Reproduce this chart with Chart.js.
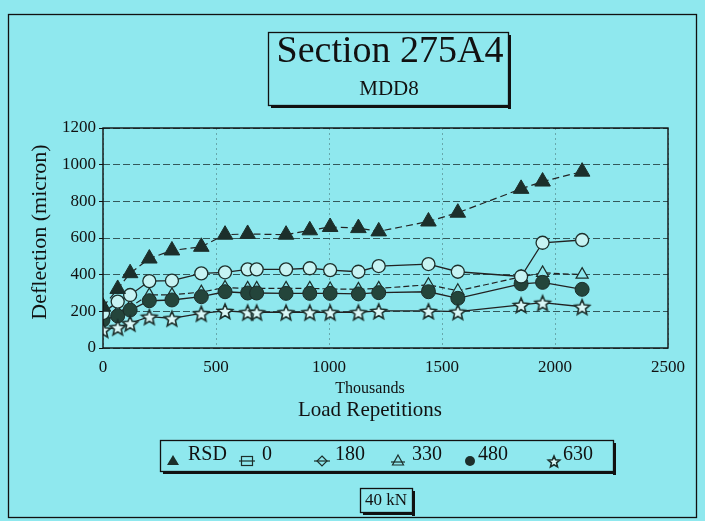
<!DOCTYPE html>
<html>
<head>
<meta charset="utf-8">
<script src="https://cdn.jsdelivr.net/npm/chart.js@4/dist/chart.umd.min.js"></script>
<style>
  html, body { margin: 0; padding: 0; background: #8fe8ee; }
  #wrap { width: 705px; height: 521px; }
</style>
</head>
<body>
<div id="wrap"><canvas id="mycanvas" width="705" height="521"></canvas></div>
<script>
// load repetitions (thousands)
var repsRSD = [0, 65, 120, 205, 305, 435, 540, 640, 810, 915, 1005, 1130, 1220, 1440, 1570, 1850, 1945, 2120];
var repsMDD = [0, 65, 120, 205, 305, 435, 540, 640, 680, 810, 915, 1005, 1130, 1220, 1440, 1570, 1850, 1945, 2120];

// deflection (micron)
var rsd  = [225, 322, 408, 488, 532, 552, 618, 622, 618, 642, 660, 654, 636, 690, 738, 868, 908, 962];
var d0   = [];
var d180 = [190, 253, 289, 365, 367, 407, 413, 429, 429, 429, 435, 425, 416, 447, 458, 416, 390, 574, 589];
var d330 = [175, 195, 225, 290, 290, 305, 330, 325, 325, 325, 325, 322, 320, 325, 345, 312, 388, 410, 400];
var d480 = [153, 175, 207, 258, 262, 280, 307, 300, 300, 298, 298, 298, 295, 302, 307, 271, 350, 358, 320];
var d630 = [100, 113, 135, 171, 162, 189, 202, 195, 195, 195, 195, 195, 195, 202, 202, 198, 235, 247, 225];

var seriesNames = ["RSD", "0", "180", "330", "480", "630"];
var xTicks = [0, 500, 1000, 1500, 2000, 2500];
var yTicks = [0, 200, 400, 600, 800, 1000, 1200];

var BG = "#8fe8ee";
var INK = "#1c2f2b";
var SERIF = '"Liberation Serif", "DejaVu Serif", serif';

function pts(xs, ys) {
	var out = [];
	for (var i = 0; i < ys.length; i++) out.push({x: xs[i], y: ys[i]});
	return out;
}

function starImage(r) {
	var c = document.createElement("canvas");
	c.width = c.height = 2 * r + 4;
	var g = c.getContext("2d");
	var cx = r + 2, cy = r + 2;
	g.beginPath();
	for (var i = 0; i < 10; i++) {
		var rad = (i % 2 === 0) ? r : r * 0.45;
		var a = -Math.PI / 2 + i * Math.PI / 5;
		var px = cx + rad * Math.cos(a), py = cy + rad * Math.sin(a) + 1;
		if (i === 0) g.moveTo(px, py); else g.lineTo(px, py);
	}
	g.closePath();
	g.fillStyle = "#d9f7f7";
	g.fill();
	g.lineWidth = 1.6;
	g.strokeStyle = INK;
	g.stroke();
	return c;
}

var star = starImage(8);
var starSmall = starImage(6);

var chartdata = {
	datasets: [
		{
			label: seriesNames[0], data: pts(repsRSD, rsd),
			borderColor: "#222", borderWidth: 1.2, borderDash: [7, 4],
			pointStyle: "triangle", pointRadius: 9,
			pointBackgroundColor: INK, pointBorderColor: INK, pointBorderWidth: 1
		},
		{
			label: seriesNames[1], data: pts(repsMDD, d0),
			borderColor: "#222", borderWidth: 1.2,
			pointStyle: "rect", pointRadius: 5,
			pointBackgroundColor: BG, pointBorderColor: INK
		},
		{
			label: seriesNames[2], data: pts(repsMDD, d180),
			borderColor: "#222", borderWidth: 1.3,
			pointStyle: "circle", pointRadius: 6.5,
			pointBackgroundColor: "#c6f3f3", pointBorderColor: INK, pointBorderWidth: 1.3
		},
		{
			label: seriesNames[3], data: pts(repsMDD, d330),
			borderColor: "#222", borderWidth: 1.2, borderDash: [6, 3],
			pointStyle: "triangle", pointRadius: 7,
			pointBackgroundColor: BG, pointBorderColor: INK, pointBorderWidth: 1.2,
			order: 2
		},
		{
			label: seriesNames[4], data: pts(repsMDD, d480),
			borderColor: "#222", borderWidth: 1.4,
			pointStyle: "circle", pointRadius: 7,
			pointBackgroundColor: "#24453b", pointBorderColor: INK, pointBorderWidth: 1,
			order: 1
		},
		{
			label: seriesNames[5], data: pts(repsMDD, d630),
			borderColor: "#222", borderWidth: 1.3,
			pointStyle: star, pointRadius: 8,
			pointBackgroundColor: INK, pointBorderColor: INK
		}
	]
};

function drawBox(ctx, x, y, w, h) {
	ctx.save();
	ctx.strokeStyle = "#111";
	ctx.lineWidth = 1.3;
	ctx.strokeRect(x + 0.5, y + 0.5, w, h);
	ctx.fillStyle = "#111";
	ctx.fillRect(x + w, y + 3, 3, h + 1);
	ctx.fillRect(x + 3, y + h, w, 3);
	ctx.restore();
}

function legendMark(ctx, kind, x, y) {
	ctx.save();
	ctx.strokeStyle = INK;
	ctx.fillStyle = INK;
	ctx.lineWidth = 1.2;
	if (kind === 0) {
		ctx.beginPath();
		ctx.moveTo(x, y - 6); ctx.lineTo(x + 6, y + 4); ctx.lineTo(x - 6, y + 4);
		ctx.closePath(); ctx.fill();
	} else if (kind === 1) {
		ctx.strokeRect(x - 5.5, y - 4.5, 11, 9);
		ctx.beginPath(); ctx.moveTo(x - 8, y); ctx.lineTo(x + 8, y); ctx.stroke();
	} else if (kind === 2) {
		ctx.beginPath();
		ctx.moveTo(x, y - 5); ctx.lineTo(x + 5, y); ctx.lineTo(x, y + 5); ctx.lineTo(x - 5, y);
		ctx.closePath(); ctx.stroke();
		ctx.beginPath(); ctx.moveTo(x - 8, y); ctx.lineTo(x + 8, y); ctx.stroke();
	} else if (kind === 3) {
		ctx.beginPath();
		ctx.moveTo(x, y - 6); ctx.lineTo(x + 5.5, y + 4); ctx.lineTo(x - 5.5, y + 4);
		ctx.closePath(); ctx.stroke();
		ctx.beginPath(); ctx.moveTo(x - 7, y + 1); ctx.lineTo(x + 7, y + 1); ctx.stroke();
	} else if (kind === 4) {
		ctx.beginPath(); ctx.arc(x, y, 5, 0, Math.PI * 2); ctx.fill();
	} else {
		ctx.drawImage(starSmall, x - starSmall.width / 2, y - starSmall.height / 2);
	}
	ctx.restore();
}

var decor = {
	id: "decor",
	beforeDraw: function(chart) {
		var ctx = chart.ctx;
		ctx.save();
		ctx.fillStyle = BG;
		ctx.fillRect(0, 0, chart.width, chart.height);
		ctx.restore();
	},
	afterDatasetsDraw: function(chart) {
		var ctx = chart.ctx, a = chart.chartArea;
		ctx.save();
		ctx.strokeStyle = "#111";
		ctx.lineWidth = 1.4;
		ctx.strokeRect(a.left, a.top, a.right - a.left, a.bottom - a.top);
		ctx.restore();
	},
	afterDraw: function(chart) {
		var ctx = chart.ctx;
		ctx.save();
		// outer frame
		ctx.strokeStyle = "#111";
		ctx.lineWidth = 1.3;
		ctx.strokeRect(8.5, 14.5, 688, 503);

		// title box
		drawBox(ctx, 268, 32, 240, 73);
		ctx.fillStyle = "#111";
		ctx.textAlign = "center";
		ctx.textBaseline = "alphabetic";
		ctx.font = "38px " + SERIF;
		ctx.fillText("Section 275A4", 390, 62);
		ctx.font = "21px " + SERIF;
		ctx.fillText("MDD8", 389, 95);

		// axis titles
		ctx.font = "16px " + SERIF;
		ctx.fillText("Thousands", 370, 393);
		ctx.font = "21px " + SERIF;
		ctx.fillText("Load Repetitions", 370, 416);
		ctx.save();
		ctx.translate(46, 232);
		ctx.rotate(-Math.PI / 2);
		ctx.font = "22px " + SERIF;
		ctx.fillText("Deflection (micron)", 0, 0);
		ctx.restore();

		// legend
		drawBox(ctx, 160, 440, 453, 31);
		var markX = [173, 247, 322, 398, 470, 554];
		var textX = [188, 262, 335, 412, 478, 563];
		ctx.textAlign = "left";
		ctx.font = "20px " + SERIF;
		for (var i = 0; i < chart.data.datasets.length; i++) {
			legendMark(ctx, i, markX[i], 461);
			ctx.fillStyle = "#111";
			ctx.fillText(chart.data.datasets[i].label, textX[i], 460);
		}

		// load box
		drawBox(ctx, 360, 488, 52, 24);
		ctx.textAlign = "center";
		ctx.font = "17px " + SERIF;
		ctx.fillStyle = "#111";
		ctx.fillText("40 kN", 386, 505);
		ctx.restore();
	}
};

var ctx = document.getElementById("mycanvas");

var LineGraph = new Chart(ctx, {
	type: "line",
	data: chartdata,
	plugins: [decor],
	options: {
		responsive: false,
		animation: false,
		layout: { padding: { left: 0, right: 37, top: 128, bottom: 0 } },
		plugins: { legend: { display: false }, tooltip: { enabled: false } },
		elements: { line: { tension: 0 } },
		scales: {
			x: {
				type: "linear",
				min: 0, max: 2500,
				afterBuildTicks: function(s) { s.ticks = xTicks.map(function(v) { return {value: v}; }); },
				afterFit: function(s) { s.height = 173; },
				ticks: {
					color: "#111", padding: 9, font: { family: SERIF, size: 17 },
					callback: function(v) { return String(v); }
				},
				grid: { color: "rgba(30,50,50,0.35)", lineWidth: 1, tickLength: 0 },
				border: { display: false, dash: [2, 3] }
			},
			y: {
				type: "linear",
				min: 0, max: 1200,
				afterBuildTicks: function(s) { s.ticks = yTicks.map(function(v) { return {value: v}; }); },
				afterFit: function(s) { s.width = 103; },
				ticks: {
					color: "#111", padding: 3, font: { family: SERIF, size: 17 },
					callback: function(v) { return String(v); }
				},
				grid: { color: "rgba(20,40,40,0.75)", lineWidth: 1, tickLength: 4, tickColor: "#111" },
				border: { display: false, dash: [7, 3] }
			}
		}
	}
});
</script>
</body>
</html>
